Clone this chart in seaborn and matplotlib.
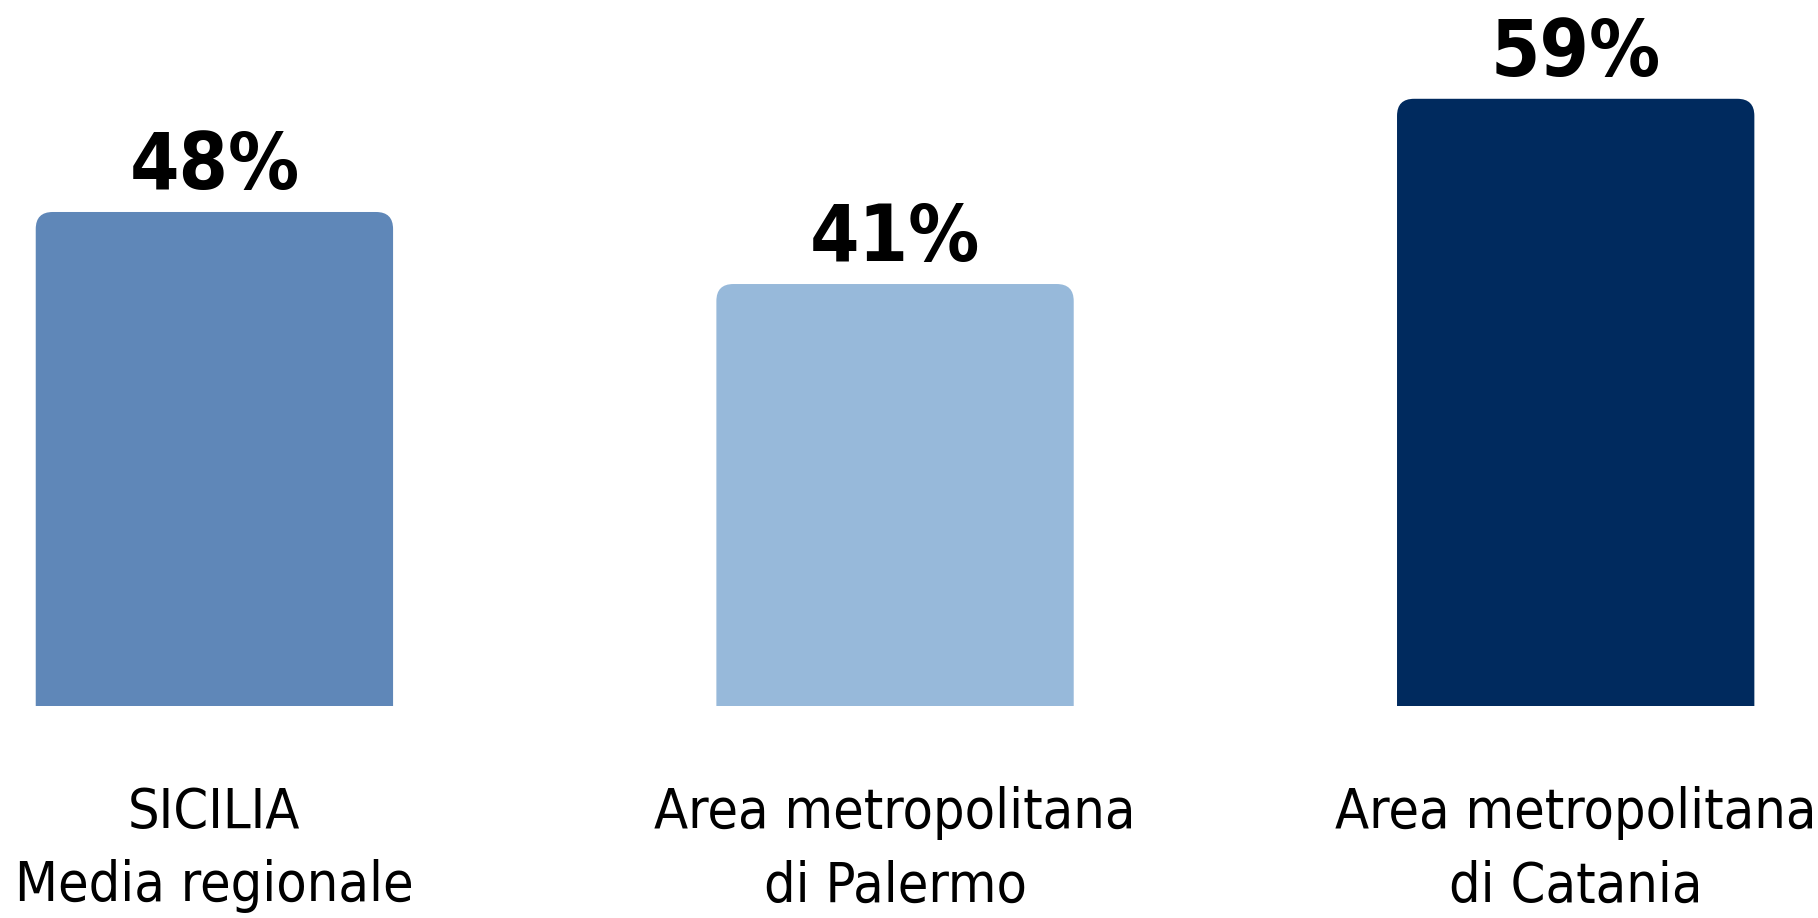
import pandas as pd
import seaborn as sns
import matplotlib.pyplot as plt
from matplotlib.patches import FancyBboxPatch

# dati
categorie = ["SICILIA\nMedia regionale", "Area metropolitana\ndi Palermo", "Area metropolitana\ndi Catania"]
valori = [48, 41, 59]
colori = ["#5f87b8", "#97b9da", "#002a5e"]

df = pd.DataFrame({"area": categorie, "valore": valori})

sns.set_style("white")
plt.rcParams["font.family"] = ["DejaVu Sans"]
plt.rcParams["font.stretch"] = "condensed"
plt.rcParams["text.color"] = "black"
plt.rcParams["xtick.color"] = "black"

fig = plt.figure(figsize=(18.18, 9.18), dpi=100)
ax = fig.add_axes([0, 0.231, 1, 0.769])

sns.barplot(data=df, x="area", y="valore", hue="area", palette=colori,
            width=0.525, legend=False, ax=ax, saturation=1)

# barre con angoli superiori arrotondati
for p in list(ax.patches):
    x, w, h = p.get_x(), p.get_width(), p.get_height()
    fb = FancyBboxPatch((x, -5), w, h + 5,
                        boxstyle="round,pad=0,rounding_size=0.025",
                        mutation_aspect=66, facecolor=p.get_facecolor(),
                        edgecolor="none", clip_on=True)
    ax.add_patch(fb)
    p.set_visible(False)

ax.set_xlim(-0.315, 2.356)
ax.set_ylim(0, 68.6)

for p, v in zip(ax.patches, valori):
    ax.annotate(f"{v}%", (p.get_x() + p.get_width() / 2, v),
                xytext=(0, 5), textcoords="offset points",
                ha="center", va="bottom", fontsize=57, fontweight="bold")

ax.set_xlabel("")
ax.set_ylabel("")
ax.set_yticks([])
ax.tick_params(axis="x", length=0, pad=58, labelsize=40)
for t in ax.get_xticklabels():
    t.set_linespacing(1.45)
    t.set_fontweight("medium")
sns.despine(ax=ax, left=True, bottom=True)

fig.savefig("out.png", dpi=100)
